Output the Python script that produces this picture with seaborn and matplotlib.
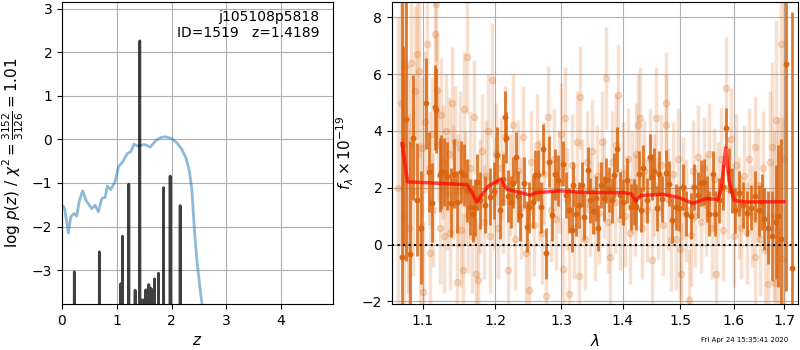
import matplotlib
matplotlib.use("Agg")
import matplotlib.pyplot as plt
import matplotlib.ticker as mticker
import seaborn as sns
import numpy as np
import pandas as pd

# ---------------- data: left panel ----------------
chi2_z = [0.0, 0.024, 0.05, 0.116, 0.159, 0.219, 0.268, 0.317, 0.378, 0.439, 0.50, 0.543,
          0.603, 0.664, 0.725, 0.786, 0.829, 0.89, 0.969, 1.03, 1.11, 1.194, 1.256, 1.316,
          1.377, 1.45, 1.518, 1.609, 1.718, 1.80, 1.883, 2.005, 2.097, 2.188, 2.267, 2.327,
          2.371, 2.413, 2.462, 2.523, 2.554, 2.60]
chi2_logp = [-1.55, -1.53, -1.6, -2.15, -1.78, -1.7, -1.76, -1.4, -1.18, -1.4, -1.51, -1.59,
             -1.51, -1.66, -1.36, -1.33, -1.07, -1.15, -0.97, -0.63, -0.51, -0.32, -0.28, -0.11,
             -0.15, -0.13, -0.12, -0.18, -0.02, 0.04, 0.06, 0.02, -0.08, -0.23, -0.44, -0.74,
             -1.17, -2.01, -2.77, -3.46, -3.76, -4.5]

peak_z = [0.225, 0.682, 1.073, 1.103, 1.219, 1.335, 1.419, 1.475, 1.53, 1.585, 1.627,
          1.688, 1.761, 1.853, 1.974, 2.157]
peak_logp = [-3.04, -2.58, -3.31, -2.22, -1.03, -3.46, 2.26, -3.68, -3.45, -3.33, -3.42,
             -3.2, -3.07, -1.11, -0.84, -1.52]

# ---------------- data: right panel ----------------
model_wave = [1.073, 1.080, 1.160, 1.167, 1.174, 1.190, 1.2085, 1.2172, 1.2518, 1.2619,
              1.2977, 1.3398, 1.4002, 1.4143, 1.4217, 1.4313, 1.4690, 1.4987, 1.5229,
              1.5479, 1.5700, 1.5764, 1.5847, 1.5914, 1.6011, 1.6239, 1.70]
model_flux = [3.56, 2.21, 2.11, 1.85, 1.50, 2.05, 2.30, 1.95, 1.74, 1.83,
              1.89, 1.83, 1.83, 1.79, 1.53, 1.73, 1.77, 1.65, 1.45,
              1.62, 1.59, 2.0, 3.41, 2.23, 1.55, 1.50, 1.51]

dark_wave = [1.073, 1.074, 1.078, 1.083, 1.087, 1.093, 1.098, 1.104, 1.108, 1.1125, 1.116,
             1.118, 1.1225, 1.125, 1.128, 1.133, 1.138, 1.142, 1.147, 1.152, 1.156, 1.160,
             1.165, 1.168, 1.172, 1.175, 1.179, 1.186, 1.193, 1.198, 1.2035, 1.2075, 1.211,
             1.215, 1.216, 1.219, 1.223, 1.227, 1.231, 1.234, 1.237, 1.243, 1.248,
             1.251, 1.256, 1.259, 1.264, 1.268, 1.272, 1.276, 1.281, 1.285, 1.290, 1.294,
             1.303, 1.307, 1.312, 1.316, 1.319, 1.323, 1.328, 1.332, 1.336, 1.342, 1.345,
             1.351, 1.355, 1.359, 1.364, 1.368, 1.372, 1.377, 1.381, 1.385, 1.390, 1.395,
             1.400, 1.407, 1.414, 1.419, 1.423, 1.427, 1.431, 1.435, 1.441, 1.446, 1.450,
             1.454, 1.459, 1.462, 1.468, 1.475, 1.480, 1.486, 1.492, 1.498, 1.505, 1.511,
             1.520, 1.526, 1.532, 1.538, 1.544, 1.549, 1.554, 1.560, 1.565, 1.572, 1.579,
             1.586, 1.591, 1.597, 1.603, 1.611, 1.618, 1.625, 1.634, 1.642, 1.650, 1.655,
             1.660, 1.668, 1.676, 1.683, 1.688, 1.693, 1.705, 1.716]
dark_flux = [-0.44, 3.5, 4.41, -0.34, 3.76, 1.58, 0.6, 4.97, 2.56, 1.48, 4.83,
             4.73, 2.45, 2.56, 2.56, 2.4, 1.48, 2.5, 1.5, 2.56, 2.45, 1.9,
             1.32, 1.09, 1.3, 2.2, 1.56, 1.4, 1.68, 1.9, 3.15, 1.2, 2.3,
             4.5, 3.76, 1.71, 1.5, 2.17, 3.08, 1.7, 1.03, 2.17, 0.62,
             1.32, 1.5, 2.44, 2.44, 1.32, 3.35, -0.3, 2.92, 1.03, 2.48, 2.26,
             2.85, 1.74, 1.2, 0.52, 2.11, 1.09, 1.4, 2.11, 0.97, 2.62, 1.56,
             1.17, 1.63, 0.58, 2.09, 1.63, 2.26, 1.94, 1.56, 2.44, 3.35, 1.74,
             1.5, 2.26, 1.32, 1.5, 1.32, 2.48, 1.23, 2.7, 1.56, 3.09, 2.38,
             2.6, 1.27, 2.5, 1.6, 2.52, 2.15, 0.85, 1.32, 1.27, 2.03, 1.09,
             1.0, 2.03, 1.74, 2.17, 2.21, 1.6, 1.09, 2.5, 1.09, 1.56, 2.03,
             4.11, 2.6, 1.9, 1.2, 1.8, 1.4, 1.1, 1.3, 1.7, 1.2, 1.5,
             0.9, 0.6, 0.3, 0.8, 1.0, 0.2, 6.35, -0.82]
dark_err = [9.0, 3.5, 5.0, 4.0, 2.2, 2.0, 2.0, 1.6, 1.4, 1.4, 1.5,
            1.5, 1.3, 1.3, 1.2, 1.2, 1.2, 1.2, 1.1, 1.1, 1.1, 1.1,
            1.0, 1.0, 1.0, 1.0, 1.0, 1.0, 1.0, 1.0, 1.0, 1.0, 0.9,
            0.9, 0.9, 0.9, 0.9, 0.9, 0.9, 0.9, 0.9, 0.9, 0.9,
            0.9, 0.9, 0.9, 0.9, 0.9, 0.9, 0.9, 0.9, 0.9, 0.9, 0.9,
            0.8, 0.8, 0.8, 0.8, 0.8, 0.8, 0.8, 0.8, 0.8, 0.8, 0.8,
            0.8, 0.8, 0.8, 0.8, 0.8, 0.8, 0.8, 0.8, 0.8, 0.8, 0.8,
            0.8, 0.8, 0.8, 0.8, 0.8, 0.8, 0.8, 0.8, 0.8, 0.8, 0.8,
            0.8, 0.8, 0.8, 0.8, 0.8, 0.8, 0.8, 0.8, 0.8, 0.8, 0.8,
            0.8, 0.8, 0.8, 0.8, 0.8, 0.8, 0.8, 0.8, 0.8, 0.8, 0.8,
            0.7, 0.8, 0.8, 0.8, 0.8, 0.8, 0.8, 0.8, 0.9, 0.9, 1.0,
            1.1, 1.3, 1.6, 2.0, 2.5, 3.5, 8.0, 9.0]

light_wave = [1.068, 1.071, 1.075, 1.077, 1.080, 1.082, 1.085, 1.087, 1.090, 1.092, 1.095,
              1.097, 1.099, 1.101, 1.103, 1.106, 1.108, 1.110, 1.112, 1.114, 1.116, 1.118,
              1.119, 1.121, 1.123, 1.124, 1.127, 1.129, 1.131, 1.133, 1.135, 1.137, 1.139,
              1.141, 1.143, 1.146, 1.148, 1.150, 1.152, 1.154, 1.156, 1.158, 1.160, 1.162,
              1.165, 1.167, 1.170, 1.173, 1.176, 1.178, 1.181, 1.184, 1.187, 1.190, 1.193,
              1.196, 1.199, 1.202, 1.205, 1.209, 1.212, 1.215, 1.219, 1.222, 1.226, 1.230,
              1.234, 1.238, 1.242, 1.246, 1.250, 1.254, 1.258, 1.262, 1.266, 1.270, 1.273,
              1.276, 1.280, 1.284, 1.288, 1.292, 1.296, 1.300, 1.303, 1.305, 1.309, 1.312,
              1.316, 1.320, 1.324, 1.328, 1.329, 1.333, 1.337, 1.341, 1.345, 1.349, 1.353,
              1.357, 1.361, 1.365, 1.369, 1.372, 1.375, 1.378, 1.382, 1.386, 1.389, 1.392,
              1.396, 1.400, 1.404, 1.408, 1.412, 1.416, 1.420, 1.423, 1.426, 1.429, 1.433,
              1.437, 1.441, 1.446, 1.450, 1.454, 1.457, 1.461, 1.465, 1.469, 1.474, 1.475,
              1.479, 1.484, 1.488, 1.493, 1.497, 1.499, 1.502, 1.506, 1.511, 1.517, 1.520,
              1.524, 1.528, 1.533, 1.538, 1.543, 1.548, 1.553, 1.558, 1.562, 1.566, 1.570,
              1.575, 1.580, 1.585, 1.590, 1.595, 1.600, 1.605, 1.610, 1.615, 1.620, 1.625,
              1.630, 1.636, 1.641, 1.642, 1.647, 1.652, 1.657, 1.662, 1.668, 1.672, 1.676,
              1.680, 1.682, 1.683, 1.688, 1.693, 1.697, 1.700]
light_flux = [2.0, 5.0, 1.0, 6.3, 2.3, 0.6, 6.4, 1.9, 5.4, 6.7, 6.1,
              0.6, 3.4, -1.67, 4.3, 7.08, 2.7, -0.3, 3.9, 1.2, 7.43, 8.47,
              5.46, 3.5, 0.6, 4.56, 2.9, 0.3, 4.0, 1.8, 3.2, 0.4, 4.97,
              2.2, 3.6, -1.32, 1.9, 3.4, 0.5, -0.88, 4.79, 2.0, 6.59, 1.0,
              2.7, 0.3, 4.5, -1.03, -1.26, 1.7, 3.3, 0.8, 2.4, 4.0, 0.3,
              5.79, 1.8, 3.2, 0.6, 2.7, 1.5, 3.8, -0.88, 2.1, 4.2, 0.2,
              2.6, 1.3, 3.8, -0.3, -1.59, 2.9, 0.7, 3.5, 1.9, 0.4, 2.5,
              -1.82, 4.5, 1.2, 3.0, 0.9, 2.2, 3.9, -0.85, 4.44, 1.6, -1.73,
              2.8, 0.6, 3.6, -1.12, 5.18, 1.9, 0.2, 2.9, 1.4, 3.3, 0.5,
              2.4, 1.1, 3.6, 2.0, 5.88, 0.8, -0.44, 2.9, 1.5, 3.5, 5.28,
              0.9, 2.5, 1.0, 3.0, 0.4, 2.2, 1.4, 3.2, 4.2, 4.47, 0.6,
              2.6, 1.2, 3.0, -0.56, 2.1, 4.47, 1.3, 2.8, 0.7, 4.2, 4.97,
              1.6, 0.17, 2.5, 0.19, 3.0, -0.14, -1.05, 2.0, 1.2, -1.94, 0.33,
              2.6, 1.0, 3.1, 0.8, 2.7, 1.4, 3.2, 0.6, 2.3, -1.05, 1.8,
              3.0, 0.5, 5.5, 2.0, 3.73, 0.3, 2.8, 1.3, 0.6, 2.4, 0.4,
              3.0, 1.0, 3.44, -0.44, 2.1, 0.2, 2.7, -0.2, -1.4, 2.9, 3.44,
              1.0, -1.35, 4.4, 0.5, 7.08, -0.5, 3.0]
light_err = [6.0, 5.0, 5.0, 4.0, 4.0, 4.0, 3.0, 3.0, 3.0, 3.0, 3.0,
             3.0, 2.5, 2.5, 2.5, 2.0, 2.0, 2.0, 2.0, 2.0, 2.0, 2.0,
             2.0, 2.0, 2.0, 2.0, 2.0, 2.0, 2.0, 2.0, 2.0, 2.0, 2.0,
             2.0, 2.0, 2.0, 2.0, 2.0, 2.0, 2.0, 2.0, 2.0, 2.0, 2.0,
             2.0, 2.0, 2.0, 2.0, 2.0, 2.0, 2.0, 2.0, 2.0, 2.0, 2.0,
             2.0, 2.0, 1.8, 1.8, 1.8, 1.8, 1.8, 1.8, 1.8, 1.8, 1.8,
             1.8, 1.8, 1.8, 1.8, 1.8, 1.8, 1.8, 1.8, 1.8, 1.8, 1.8,
             1.8, 1.8, 1.8, 1.8, 1.8, 1.8, 1.8, 1.8, 1.8, 1.8, 1.8,
             1.8, 1.8, 1.8, 1.8, 1.8, 1.8, 1.8, 1.8, 1.8, 1.8, 1.8,
             1.8, 1.8, 1.8, 1.8, 1.8, 1.8, 1.8, 1.8, 1.8, 1.8, 1.8,
             1.8, 1.8, 1.8, 1.8, 1.8, 1.8, 1.8, 1.8, 1.8, 1.8, 1.8,
             1.8, 1.8, 1.8, 1.8, 1.8, 1.8, 1.8, 1.8, 1.8, 1.8, 1.8,
             1.8, 1.8, 1.8, 1.8, 1.8, 1.8, 1.8, 1.8, 1.8, 1.8, 1.8,
             1.8, 1.8, 1.8, 1.8, 1.8, 1.8, 1.8, 1.8, 1.8, 1.8, 1.8,
             1.8, 1.8, 1.8, 1.8, 1.8, 1.8, 1.8, 1.8, 1.8, 1.8, 1.8,
             1.8, 1.8, 1.8, 1.8, 2.0, 2.0, 2.0, 2.2, 2.5, 2.5, 3.0,
             3.0, 3.0, 3.5, 4.0, 4.0, 5.0, 6.0]

tick_z = [0, 1, 2, 3, 4]
tick_logp = [-3, -2, -1, 0, 1, 2, 3]
tick_wave = [1.1, 1.2, 1.3, 1.4, 1.5, 1.6, 1.7]
tick_flux = [-2, 0, 2, 4, 6, 8]

ORANGE = "#d9650f"

fig = plt.figure(figsize=(8, 3.5), dpi=100)
ax1 = fig.add_axes([0.0775, 0.131, 0.339, 0.863])
ax2 = fig.add_axes([0.49, 0.131, 0.5075, 0.863])

# ---- left panel ----
spike_z, spike_p = [], []
for zc, h in zip(peak_z, peak_logp):
    spike_z += [zc - 0.008, zc, zc + 0.008]
    spike_p += [-9.0, h, -9.0]
df_sp = pd.DataFrame({"z": spike_z, "p": spike_p})
df_chi = pd.DataFrame({"z": chi2_z, "p": chi2_logp})
sns.lineplot(data=df_chi, x="z", y="p", ax=ax1, color="#1f77b4", alpha=0.5, lw=2,
             sort=False, estimator=None)
sns.lineplot(data=df_sp, x="z", y="p", ax=ax1, color="k", alpha=0.75, lw=2,
             sort=False, estimator=None)
ax1.set_xlim(0, 4.95)
ax1.set_ylim(-3.78, 3.15)
ax1.set_xticks(tick_z)
ax1.set_yticks(tick_logp)
ax1.grid(True, color="#b0b0b0", lw=0.8)
ax1.set_xlabel("$z$", fontsize=11)
ax1.set_ylabel(r"$\log\,p(z)$ / $\chi^2=\frac{3152}{3126}=1.01$", fontsize=11)
ax1.text(0.95, 0.975, "j105108p5818\nID=1519   z=1.4189", transform=ax1.transAxes,
         ha="right", va="top", fontsize=10)

# ---- right panel ----
ax2.set_xscale("log")
ax2.errorbar(light_wave, light_flux, yerr=light_err, fmt="o", color=ORANGE, alpha=0.2,
             ms=4.5, lw=2.5, elinewidth=2.5, capsize=0, zorder=1)
ax2.errorbar(dark_wave, dark_flux, yerr=dark_err, fmt="none", ecolor=ORANGE, alpha=0.85,
             elinewidth=2.0, capsize=0, zorder=2)
df_dark = pd.DataFrame({"w": dark_wave, "f": dark_flux})
sns.scatterplot(data=df_dark, x="w", y="f", ax=ax2, color=ORANGE, s=18, linewidth=0,
                alpha=0.95, zorder=3)
df_mod = pd.DataFrame({"w": model_wave, "f": model_flux})
sns.lineplot(data=df_mod, x="w", y="f", ax=ax2, color="red", alpha=0.7, lw=2.5,
             sort=False, estimator=None, zorder=4)
ax2.axhline(0, color="k", ls=":", lw=1.5, zorder=5)
ax2.set_xlim(1.06, 1.729)
ax2.set_ylim(-2.1, 8.54)
ax2.xaxis.set_major_locator(mticker.FixedLocator(tick_wave))
ax2.xaxis.set_minor_locator(mticker.NullLocator())
ax2.xaxis.set_major_formatter(mticker.FixedFormatter([f"{t:.1f}" for t in tick_wave]))
ax2.set_yticks(tick_flux)
ax2.grid(True, color="#b0b0b0", lw=0.8)
ax2.set_axisbelow(True)
ax2.set_xlabel(r"$\lambda$", fontsize=11)
ax2.set_ylabel(r"$f_\lambda \times 10^{-19}$", fontsize=11)

for ax in (ax1, ax2):
    ax.tick_params(labelsize=10)

fig.text(0.985, 0.02, "Fri Apr 24 15:35:41 2020", ha="right", va="bottom", fontsize=5)

fig.savefig("out.png", dpi=100)
